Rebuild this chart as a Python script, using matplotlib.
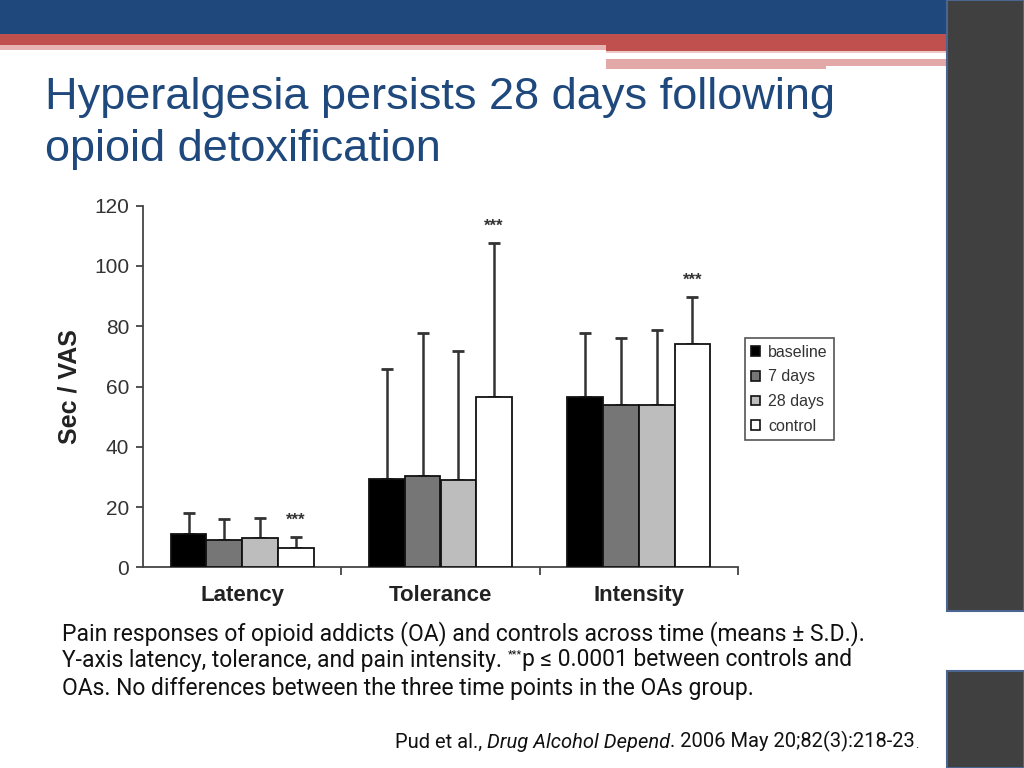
import matplotlib.pyplot as plt
from matplotlib.patches import Rectangle, Patch
import numpy as np

# data
categories = ['Latency', 'Tolerance', 'Intensity']
groups = ['baseline', '7 days', '28 days', 'control']
means = {
    'baseline': [10.9, 29.2, 56.6],
    '7 days':   [9.0, 30.4, 53.9],
    '28 days':  [9.7, 29.1, 53.9],
    'control':  [6.5, 56.4, 74.0],
}
sds = {
    'baseline': [7.2, 36.5, 21.1],
    '7 days':   [6.9, 47.5, 22.1],
    '28 days':  [6.5, 42.7, 24.9],
    'control':  [3.6, 51.3, 15.8],
}
bar_colors = ['#000000', '#767676', '#BDBDBD', '#FFFFFF']
yticks = [0, 20, 40, 60, 80, 100, 120]

cap1 = 'Pain responses of opioid addicts (OA) and controls across time (means \u00b1 S.D.).'
cap2a = 'Y-axis latency, tolerance, and pain intensity. '
cap2b = 'p \u2264 0.0001 between controls and'
cap3 = 'OAs. No differences between the three time points in the OAs group.'

fig = plt.figure(figsize=(10.24, 7.68), dpi=100)

# slide decoration, pixel coords
bg = fig.add_axes([0, 0, 1, 1])
bg.set_xlim(0, 1024)
bg.set_ylim(768, 0)
bg.axis('off')
bg.add_patch(Rectangle((0, 0), 948, 34, color='#1F497D', lw=0))
bg.add_patch(Rectangle((0, 34), 948, 11, color='#C0504D', lw=0))
bg.add_patch(Rectangle((0, 45), 606, 5, color='#E8B4B3', lw=0))
bg.add_patch(Rectangle((606, 45), 342, 6, color='#C0504D', lw=0))
bg.add_patch(Rectangle((606, 51), 342, 2, color='#EFC9C8', lw=0))
bg.add_patch(Rectangle((606, 59), 342, 7, color='#E3A9A8', lw=0))
bg.add_patch(Rectangle((606, 66), 220, 3, color='#E3A9A8', lw=0))
bg.add_patch(Rectangle((947, 0), 77, 611, facecolor='#404040', edgecolor='#4A6690', lw=1.5))
bg.add_patch(Rectangle((947, 671), 77, 97, facecolor='#404040', edgecolor='#4A6690', lw=1.5))

bg.text(45, 97, 'Hyperalgesia persists 28 days following', fontsize=32.5,
        family='Liberation Sans', color='#1F497D', va='center')
bg.text(45, 150, 'opioid detoxification', fontsize=32.5,
        family='Liberation Sans', color='#1F497D', va='center')

cfont = dict(fontsize=16.5, family=['Roboto', 'DejaVu Sans'], color='#111111')
bg.text(62, 634, cap1, va='center', **cfont)
t2 = bg.text(62, 661, cap2a, va='center', **cfont)
t3 = bg.annotate('***', xy=(1, 0.55), xycoords=t2, va='bottom', fontsize=8,
                 family=['Roboto', 'DejaVu Sans'], color='#111111')
bg.annotate(cap2b, xy=(1, 0), xycoords=t3, xytext=(0, 0), textcoords='offset points',
            va='center', **cfont)
bg.text(62, 688, cap3, va='center', **cfont)

cit = dict(fontsize=14.5, family=['Roboto', 'DejaVu Sans'], color='#111111')
c1 = bg.text(395, 742, 'Pud et al., ', va='center', **cit)
c2 = bg.annotate('Drug Alcohol Depend', xy=(1, 0), xycoords=c1, va='bottom',
                 style='italic', **cit)
c3 = bg.annotate('. 2006 May 20;82(3):218-23', xy=(1, 0), xycoords=c2, va='bottom', **cit)
bg.annotate('.', xy=(1, 0), xycoords=c3, va='bottom', fontsize=9,
            family=['Roboto', 'DejaVu Sans'], color='#111111')

# chart
ax = fig.add_axes([143 / 1024, 1 - 567.3 / 768, 595 / 1024, 361.6 / 768])
x = np.arange(len(categories))
w = 0.18
for i, g in enumerate(groups):
    pos = x + (i - 1.5) * w
    ax.bar(pos, means[g], width=w, color=bar_colors[i], edgecolor='#111111', lw=1.3, zorder=3)
    ax.errorbar(pos, means[g], yerr=[np.zeros(3), sds[g]], fmt='none', ecolor='#333333',
                elinewidth=1.8, capsize=4, capthick=2, zorder=2)

# significance stars over control
ctrl_top = np.array(means['control']) + np.array(sds['control'])
for xi, top in zip(x + 1.5 * w, ctrl_top):
    ax.text(xi, top + 3, '***', ha='center', va='bottom', fontsize=12,
            fontweight='bold', color='#333333', family='Liberation Sans')

ax.set_xlim(-0.5, 2.5)
ax.set_ylim(0, 120)
ax.set_yticks(yticks)
ax.set_xticks(x)
ax.set_xticklabels(categories, fontsize=16, fontweight='bold', family='Liberation Sans',
                   color='#222222')
ax.tick_params(axis='x', length=0, pad=13)
ax.set_xticks([0.5, 1.5, 2.5], minor=True)
ax.tick_params(axis='x', which='minor', length=6, width=1.3, color='#444444')
ax.tick_params(axis='y', length=5, width=1.3, color='#444444', labelsize=15,
               labelcolor='#333333', pad=5)
for lab in ax.get_yticklabels():
    lab.set_family('Liberation Sans')
for s in ['top', 'right']:
    ax.spines[s].set_visible(False)
for s in ['left', 'bottom']:
    ax.spines[s].set_color('#444444')
    ax.spines[s].set_linewidth(1.3)
ax.set_ylabel('Sec / VAS', fontsize=18, fontweight='bold', family='Liberation Sans',
              color='#222222', labelpad=9)
ax.patch.set_alpha(0)

handles = [Patch(facecolor=c, edgecolor='#111111', lw=1.2) for c in bar_colors]
leg = ax.legend(handles, groups, loc='upper left', bbox_to_anchor=(0.998, 0.655),
                handlelength=0.55, handleheight=0.55, handletextpad=0.5,
                labelspacing=0.6, borderpad=0.4, fancybox=False, framealpha=1,
                edgecolor='#555555', prop={'family': 'Liberation Sans', 'size': 11.5})
for t in leg.get_texts():
    t.set_color('#333333')
leg.get_frame().set_linewidth(1.2)

fig.savefig('out.png', dpi=100)
